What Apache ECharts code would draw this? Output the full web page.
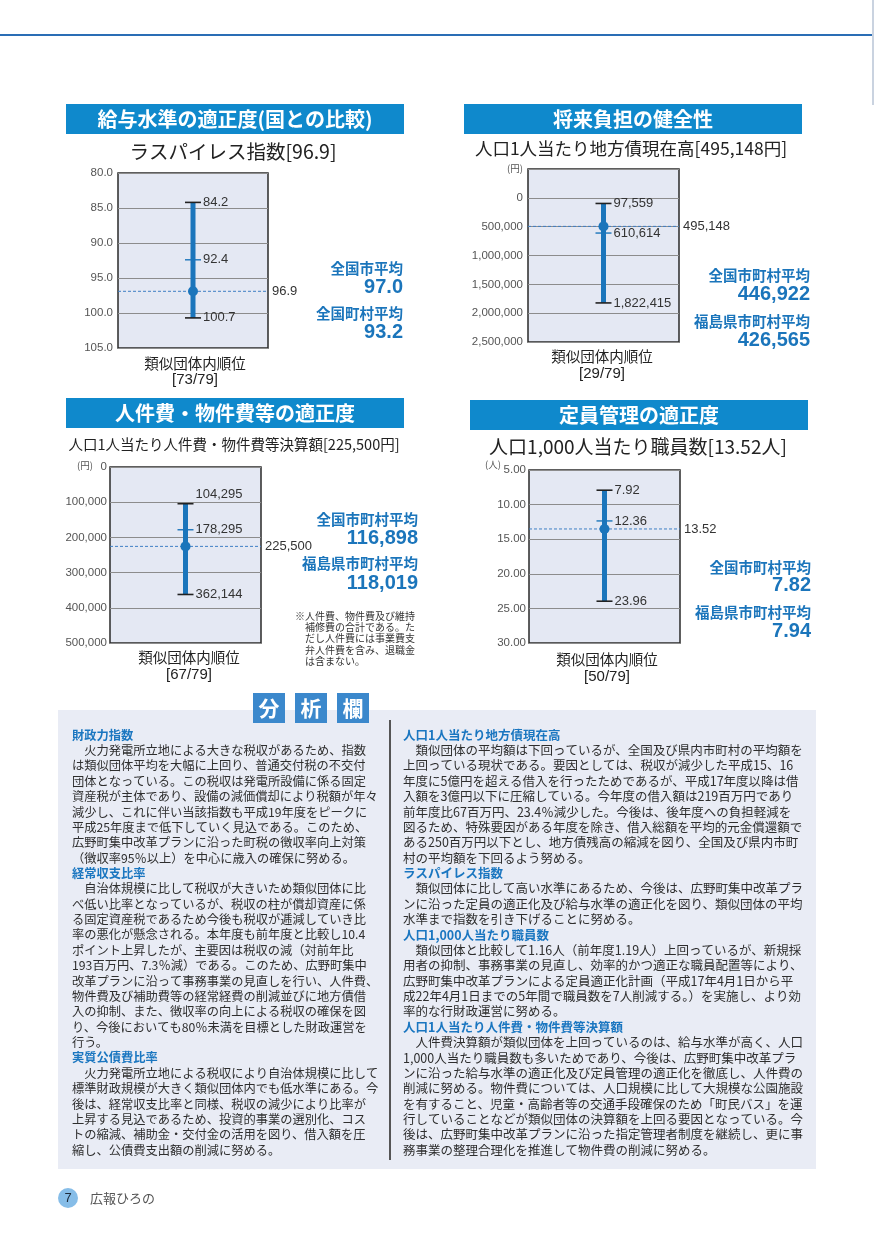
<!DOCTYPE html>
<html><head><meta charset="utf-8">
<script src="https://cdn.jsdelivr.net/npm/echarts@6/dist/echarts.min.js"></script>
<style>html,body{margin:0;padding:0;background:#fff}#c{width:874px;height:1236px}</style>
</head><body><div id="c"></div><script>
// ---------- data ----------
const panelTitles = ['給与水準の適正度(国との比較)', '将来負担の健全性', '人件費・物件費等の適正度', '定員管理の適正度'];
const subTitles = ['ラスパイレス指数[96.9]', '人口1人当たり地方債現在高[495,148円]', '人口1人当たり人件費・物件費等決算額[225,500円]', '人口1,000人当たり職員数[13.52人]'];
const rankCaption = '類似団体内順位';
const rankLabels = ['[73/79]', '[29/79]', '[67/79]', '[50/79]'];
const unitLabels = ['', '(円)', '(円)', '(人)'];
const minValues = [84.2, 97559, 104295, 7.92];
const midValues = [92.4, 610614, 178295, 12.36];
const maxValues = [100.7, 1822415, 362144, 23.96];
const ownValues = [96.9, 495148, 225500, 13.52];
const axisMin = [80, -500000, 0, 5];
const axisMax = [105, 2500000, 500000, 30];
const axisStep = [5, 500000, 100000, 5];
const decimals = [1, 0, 0, 2];
const avgNames = [['全国市平均', '全国町村平均'], ['全国市町村平均', '福島県市町村平均'], ['全国市町村平均', '福島県市町村平均'], ['全国市町村平均', '福島県市町村平均']];
const avgValues = [['97.0', '93.2'], ['446,922', '426,565'], ['116,898', '118,019'], ['7.82', '7.94']];
const noteLines = ['※人件費、物件費及び維持', '補修費の合計である。た', 'だし人件費には事業費支', '弁人件費を含み、退職金', 'は含まない。'];
const analysisTitle = ['分', '析', '欄'];
const leftText = [
  ['h', '財政力指数'],
  ['t', '　火力発電所立地による大きな税収があるため、指数'],
  ['t', 'は類似団体平均を大幅に上回り、普通交付税の不交付'],
  ['t', '団体となっている。この税収は発電所設備に係る固定'],
  ['t', '資産税が主体であり、設備の減価償却により税額が年々'],
  ['t', '減少し、これに伴い当該指数も平成19年度をピークに'],
  ['t', '平成25年度まで低下していく見込である。このため、'],
  ['t', '広野町集中改革プランに沿った町税の徴収率向上対策'],
  ['t', '（徴収率95％以上）を中心に歳入の確保に努める。'],
  ['h', '経常収支比率'],
  ['t', '　自治体規模に比して税収が大きいため類似団体に比'],
  ['t', 'べ低い比率となっているが、税収の柱が償却資産に係'],
  ['t', 'る固定資産税であるため今後も税収が逓減していき比'],
  ['t', '率の悪化が懸念される。本年度も前年度と比較し10.4'],
  ['t', 'ポイント上昇したが、主要因は税収の減（対前年比'],
  ['t', '193百万円、7.3％減）である。このため、広野町集中'],
  ['t', '改革プランに沿って事務事業の見直しを行い、人件費、'],
  ['t', '物件費及び補助費等の経常経費の削減並びに地方債借'],
  ['t', '入の抑制、また、徴収率の向上による税収の確保を図'],
  ['t', 'り、今後においても80％未満を目標とした財政運営を'],
  ['t', '行う。'],
  ['h', '実質公債費比率'],
  ['t', '　火力発電所立地による税収により自治体規模に比して'],
  ['t', '標準財政規模が大きく類似団体内でも低水準にある。今'],
  ['t', '後は、経常収支比率と同様、税収の減少により比率が'],
  ['t', '上昇する見込であるため、投資的事業の選別化、コス'],
  ['t', 'トの縮減、補助金・交付金の活用を図り、借入額を圧'],
  ['t', '縮し、公債費支出額の削減に努める。']
];
const rightText = [
  ['h', '人口1人当たり地方債現在高'],
  ['t', '　類似団体の平均額は下回っているが、全国及び県内市町村の平均額を'],
  ['t', '上回っている現状である。要因としては、税収が減少した平成15、16'],
  ['t', '年度に5億円を超える借入を行ったためであるが、平成17年度以降は借'],
  ['t', '入額を3億円以下に圧縮している。今年度の借入額は219百万円であり'],
  ['t', '前年度比67百万円、23.4％減少した。今後は、後年度への負担軽減を'],
  ['t', '図るため、特殊要因がある年度を除き、借入総額を平均的元金償還額で'],
  ['t', 'ある250百万円以下とし、地方債残高の縮減を図り、全国及び県内市町'],
  ['t', '村の平均額を下回るよう努める。'],
  ['h', 'ラスパイレス指数'],
  ['t', '　類似団体に比して高い水準にあるため、今後は、広野町集中改革プラ'],
  ['t', 'ンに沿った定員の適正化及び給与水準の適正化を図り、類似団体の平均'],
  ['t', '水準まで指数を引き下げることに努める。'],
  ['h', '人口1,000人当たり職員数'],
  ['t', '　類似団体と比較して1.16人（前年度1.19人）上回っているが、新規採'],
  ['t', '用者の抑制、事務事業の見直し、効率的かつ適正な職員配置等により、'],
  ['t', '広野町集中改革プランによる定員適正化計画（平成17年4月1日から平'],
  ['t', '成22年4月1日までの5年間で職員数を7人削減する。）を実施し、より効'],
  ['t', '率的な行財政運営に努める。'],
  ['h', '人口1人当たり人件費・物件費等決算額'],
  ['t', '　人件費決算額が類似団体を上回っているのは、給与水準が高く、人口'],
  ['t', '1,000人当たり職員数も多いためであり、今後は、広野町集中改革プラ'],
  ['t', 'ンに沿った給与水準の適正化及び定員管理の適正化を徹底し、人件費の'],
  ['t', '削減に努める。物件費については、人口規模に比して大規模な公園施設'],
  ['t', 'を有すること、児童・高齢者等の交通手段確保のため「町民バス」を運'],
  ['t', '行していることなどが類似団体の決算額を上回る要因となっている。今'],
  ['t', '後は、広野町集中改革プランに沿った指定管理者制度を継続し、更に事'],
  ['t', '務事業の整理合理化を推進して物件費の削減に努める。']
];
const pageNumber = '7';
const footerText = '広報ひろの';

// ---------- layout / style ----------
const JP = '"Noto Sans CJK JP", sans-serif';
const NUM = '"Liberation Sans", "Noto Sans CJK JP", sans-serif';
const BLUE = '#1b75bb';
const HEAD = '#0f89cc';
const TXT = '#333333';
const L = [
  {grid: [118, 173, 150, 175], head: [66, 104, 338, 30], sub: [233, 152, 19.5], rank: [195, 363, 380], avgX: 403, avgY: [268, 287, 313, 332], unit: null, loDy: 0},
  {grid: [528, 169, 151, 173], head: [464, 104, 338, 30], sub: [631, 148, 17.5], rank: [602, 356, 374], avgX: 810, avgY: [275, 294, 321, 340], unit: [515, 168], loDy: 0},
  {grid: [110, 467, 151, 176], head: [66, 398, 338, 30], sub: [234, 444, 14.5], rank: [189, 657, 675], avgX: 418, avgY: [519, 538, 563, 583], unit: [85, 465], loDy: -9},
  {grid: [529, 470, 151, 173], head: [470, 400, 338, 30], sub: [638, 447, 19], rank: [607, 659, 677], avgX: 811, avgY: [567, 585, 612, 631], unit: [493, 464], loDy: 0}
];

function fmt(v, i) {
  if (decimals[i] > 0) return v.toFixed(decimals[i]);
  const s = Math.round(Math.abs(v)).toString().replace(/\B(?=(\d{3})+(?!\d))/g, ',');
  return (v < 0 ? '-' : '') + s;
}
function T(x, y, text, o) {
  o = o || {};
  return {type: 'text', x: x, y: y, z: o.z || 10, silent: true, style: {
    text: text, fill: o.fill || TXT, fontSize: o.size || 12, fontFamily: o.family || JP,
    fontWeight: o.weight || 'normal', align: o.align || 'left', verticalAlign: o.va || 'middle'}};
}
function R(x, y, w, h, fill, z) {
  return {type: 'rect', z: z || 1, silent: true, shape: {x: x, y: y, width: w, height: h}, style: {fill: fill}};
}
function Ln(x1, y1, x2, y2, stroke, lw, z) {
  return {type: 'line', z: z || 2, silent: true, shape: {x1: x1, y1: y1, x2: x2, y2: y2}, style: {stroke: stroke, lineWidth: lw}};
}

const grids = [], xAxes = [], yAxes = [], series = [], graphics = [];

// page decorations
graphics.push(Ln(0, 35, 872, 35, '#2a6db5', 2));
graphics.push(Ln(873, 0, 873, 105, '#b8c4d6', 1.5));

for (let i = 0; i < 4; i++) {
  const c = L[i];
  grids.push({left: c.grid[0], top: c.grid[1], width: c.grid[2], height: c.grid[3], show: true,
    backgroundColor: '#e4e8f3', borderColor: '#2a2a2a', borderWidth: 1.5});
  xAxes.push({gridIndex: i, type: 'category', data: [rankCaption], show: false});
  yAxes.push({gridIndex: i, type: 'value', inverse: true, min: axisMin[i], max: axisMax[i], interval: axisStep[i],
    axisLine: {show: false}, axisTick: {show: false},
    splitLine: {show: true, lineStyle: {color: '#8c8c8c', width: 1}},
    axisLabel: {fontSize: 11.5, color: '#555', margin: i >= 2 ? 3 : 5, fontFamily: NUM,
      formatter: (v) => (v < 0 ? '' : fmt(v, i))}});
  series.push({type: 'custom', xAxisIndex: i, yAxisIndex: i, silent: true, animation: false,
    data: [[0, minValues[i], midValues[i], maxValues[i], ownValues[i]]],
    renderItem: function (params, api) {
      const cs = params.coordSys;
      const pt = (k) => api.coord([api.value(0), api.value(k)]);
      const x = pt(1)[0];
      const yLo = pt(1)[1], yMid = pt(2)[1], yHi = pt(3)[1], yOwn = pt(4)[1];
      const lab = (yy, txt, xx) => ({type: 'text', x: xx, y: yy, style: {text: txt, fill: TXT, fontSize: 13, fontFamily: NUM, align: 'left', verticalAlign: 'middle'}});
      return {type: 'group', children: [
        {type: 'line', shape: {x1: cs.x, y1: yOwn, x2: cs.x + cs.width, y2: yOwn}, style: {stroke: '#3f7fc4', lineWidth: 1, lineDash: [3, 2]}},
        {type: 'line', shape: {x1: x, y1: yLo, x2: x, y2: yHi}, style: {stroke: BLUE, lineWidth: 5}},
        {type: 'line', shape: {x1: x - 8, y1: yLo, x2: x + 8, y2: yLo}, style: {stroke: '#222', lineWidth: 1.6}},
        {type: 'line', shape: {x1: x - 8, y1: yHi, x2: x + 8, y2: yHi}, style: {stroke: '#222', lineWidth: 1.6}},
        {type: 'line', shape: {x1: x - 8, y1: yMid, x2: x + 8, y2: yMid}, style: {stroke: BLUE, lineWidth: 1.4}},
        {type: 'circle', shape: {cx: x, cy: yOwn, r: 5}, style: {fill: BLUE}},
        lab(yLo + c.loDy, fmt(api.value(1), i), x + 10),
        lab(yMid, fmt(api.value(2), i), x + 10),
        lab(yHi, fmt(api.value(3), i), x + 10),
        lab(yOwn, fmt(api.value(4), i), cs.x + cs.width + 4)
      ]};
    }});
  // header bar
  graphics.push(R(c.head[0], c.head[1], c.head[2], c.head[3], HEAD, 2));
  graphics.push(T(c.head[0] + c.head[2] / 2, c.head[1] + c.head[3] / 2, panelTitles[i], {fill: '#fff', size: 20, weight: 'bold', align: 'center'}));
  // subtitle
  graphics.push(T(c.sub[0], c.sub[1], subTitles[i], {size: c.sub[2], align: 'center', fill: '#222'}));
  // unit
  if (c.unit) graphics.push(T(c.unit[0], c.unit[1], unitLabels[i], {size: 9.5, align: 'center', fill: '#555'}));
  // rank
  graphics.push(T(c.rank[0], c.rank[1], rankCaption, {size: 14.5, align: 'center', fill: '#222'}));
  graphics.push(T(c.rank[0], c.rank[2], rankLabels[i], {size: 15, align: 'center', fill: '#222', family: NUM}));
  // averages
  for (let k = 0; k < 2; k++) {
    graphics.push(T(c.avgX, c.avgY[k * 2], avgNames[i][k], {size: 14.5, weight: 'bold', align: 'right', fill: BLUE}));
    graphics.push(T(c.avgX, c.avgY[k * 2 + 1], avgValues[i][k], {size: 20, weight: 'bold', align: 'right', fill: BLUE, family: NUM}));
  }
}
// note for chart 3
noteLines.forEach((s, k) => graphics.push(T(k === 0 ? 295 : 305, 616 + k * 11.3, s, {size: 10, fill: '#333'})));

// analysis panel
graphics.push(R(58, 710, 758, 459, '#e9ecf5', 1));
const boxX = [253, 295, 337];
analysisTitle.forEach((s, k) => {
  graphics.push(R(boxX[k], 693, 32, 30, '#3b88cc', 3));
  graphics.push(T(boxX[k] + 16, 708, s, {size: 21, weight: 'bold', fill: '#fff', align: 'center', z: 11}));
});
graphics.push(Ln(390, 720, 390, 1160, '#555', 2, 3));
function drawCol(lines, x, size) {
  lines.forEach((ln, k) => {
    const y = 735 + k * 15.37;
    if (ln[0] === 'h') graphics.push(T(x, y, ln[1], {size: size, weight: 'bold', fill: '#1a76c0'}));
    else graphics.push(T(x, y, ln[1], {size: size, fill: '#2e2e2e'}));
  });
}
drawCol(leftText, 72, 12.25);
drawCol(rightText, 403, 12.5);

// footer
graphics.push({type: 'circle', z: 2, silent: true, shape: {cx: 68, cy: 1198, r: 10}, style: {fill: '#86bde8'}});
graphics.push(T(68, 1198, pageNumber, {size: 13, fill: '#1d2b3a', align: 'center', family: NUM}));
graphics.push(T(90, 1198, footerText, {size: 13, fill: '#555'}));

const chart = echarts.init(document.getElementById('c'), null, {renderer: 'canvas'});
chart.setOption({
  animation: false,
  backgroundColor: '#ffffff',
  grid: grids, xAxis: xAxes, yAxis: yAxes, series: series,
  graphic: {elements: graphics}
});
</script></body></html>
